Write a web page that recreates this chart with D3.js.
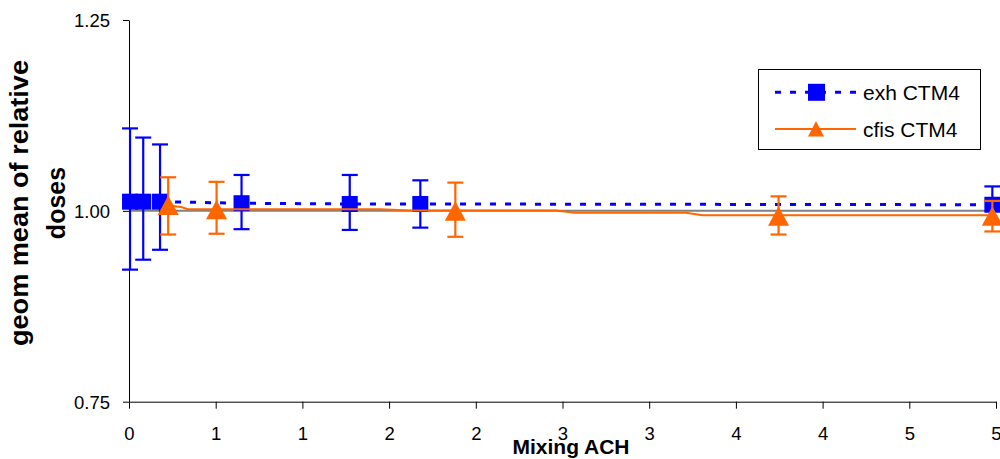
<!DOCTYPE html>
<html>
<head>
<meta charset="utf-8">
<script src="https://cdn.jsdelivr.net/npm/d3@7"></script>
<style>
  html, body { margin: 0; padding: 0; background: #fff; }
  svg { display: block; font-family: "Liberation Sans", Arial, sans-serif; }
</style>
</head>
<body>
<svg id="chart" width="1000" height="459"></svg>
<script>
// ---- data ----
const xTicks = [0, 0.5, 1, 1.5, 2, 2.5, 3, 3.5, 4, 4.5, 5];
const yTicks = [0.75, 1.00, 1.25];

const exhX    = [0.006, 0.082, 0.179, 0.649, 1.273, 1.680, 4.979];
const exhY    = [1.012, 1.012, 1.012, 1.010, 1.009, 1.009, 1.008];
const exhHigh = [1.108, 1.096, 1.087, 1.047, 1.047, 1.040, 1.032];
const exhLow  = [0.923, 0.936, 0.949, 0.976, 0.975, 0.978, 0.983];

const cfisX    = [0.226, 0.505, 1.882, 3.746, 4.979];
const cfisY    = [1.007, 1.0015, 0.9994, 0.993, 0.993];
const cfisHigh = [1.044, 1.038, 1.037, 1.019, 1.013];
const cfisLow  = [0.969, 0.970, 0.966, 0.969, 0.973];

const cfisLineX = [0.226, 0.30, 0.34, 1.446, 1.618, 2.463, 2.569, 3.213, 3.306, 4.979];
const cfisLineY = [1.007, 1.005, 1.0022, 1.0022, 1.0005, 1.0005, 0.9976, 0.9976, 0.9942, 0.9942];

const refX = [0, 4.979];
const refY = [1.0, 1.0];

const seriesNames = ["exh CTM4", "cfis CTM4"];

// ---- layout ----
const svg = d3.select("#chart");
const x = d3.scaleLinear().domain([0, 5]).range([129, 996]);
const y = d3.scaleLinear().domain([0.75, 1.25]).range([401.7, 20]);
const BLUE = "#0000FF", ORANGE = "#FF6600";

// axes
const xAxis = svg.append("g").attr("transform", `translate(0,${y(0.75)})`)
  .call(d3.axisBottom(x).tickValues(xTicks).tickSize(7).tickSizeOuter(0)
    .tickFormat(d => String(Math.floor(d + 0.5 + 1e-9))));
xAxis.selectAll("text").attr("font-size", 18.5).attr("dy", 0).attr("y", 38).attr("fill", "#000");
xAxis.selectAll("line, path").attr("stroke", "#000");

const yAxis = svg.append("g").attr("transform", `translate(${x(0)},0)`)
  .call(d3.axisLeft(y).tickValues(yTicks).tickSize(6).tickSizeOuter(0).tickFormat(d3.format(".2f")));
yAxis.selectAll("text").attr("font-size", 18.5).attr("x", -19).attr("dy", "0.35em").attr("fill", "#000");
yAxis.selectAll("line, path").attr("stroke", "#000");

// axis titles
svg.append("text").attr("x", 571).attr("y", 454).attr("text-anchor", "middle")
  .attr("font-size", 21).attr("font-weight", "bold").text("Mixing ACH");
const yt = svg.append("text").attr("transform", "translate(0,203) rotate(-90)")
  .attr("text-anchor", "middle").attr("font-size", 25).attr("font-weight", "bold");
yt.append("tspan").attr("x", 0).attr("y", 28).attr("textLength", 286)
  .attr("lengthAdjust", "spacingAndGlyphs").text("geom mean of relative");
yt.append("tspan").attr("x", 0).attr("y", 65).text("doses");

// reference line
const line = d3.line().x(d => x(d[0])).y(d => y(d[1]));
svg.append("path").datum(refX.map((v, i) => [v, refY[i]]))
  .attr("d", line).attr("fill", "none").attr("stroke", "#808080").attr("stroke-width", 2);

// exh series
svg.append("path").datum(exhX.map((v, i) => [v, exhY[i]]))
  .attr("d", line).attr("fill", "none").attr("stroke", BLUE).attr("stroke-width", 3)
  .attr("stroke-dasharray", "6,9");
function errorBars(xs, lows, highs, color) {
  const g = svg.append("g").attr("stroke", color).attr("stroke-width", 2.2);
  xs.forEach((v, i) => {
    g.append("line").attr("x1", x(v)).attr("x2", x(v)).attr("y1", y(highs[i])).attr("y2", y(lows[i]));
    g.append("line").attr("x1", x(v) - 8).attr("x2", x(v) + 8).attr("y1", y(highs[i])).attr("y2", y(highs[i]));
    g.append("line").attr("x1", x(v) - 8).attr("x2", x(v) + 8).attr("y1", y(lows[i])).attr("y2", y(lows[i]));
  });
}
errorBars(exhX, exhLow, exhHigh, BLUE);
svg.append("g").selectAll("rect").data(exhX.map((v, i) => [v, exhY[i]])).join("rect")
  .attr("x", d => x(d[0]) - 8).attr("y", d => y(d[1]) - 8).attr("width", 16).attr("height", 16)
  .attr("fill", BLUE);

// cfis series
svg.append("path").datum(cfisLineX.map((v, i) => [v, cfisLineY[i]]))
  .attr("d", line).attr("fill", "none").attr("stroke", ORANGE).attr("stroke-width", 2);
errorBars(cfisX, cfisLow, cfisHigh, ORANGE);
const tri = "M0,-10L10.5,9.5L-10.5,9.5Z";
svg.append("g").selectAll("path").data(cfisX.map((v, i) => [v, cfisY[i]])).join("path")
  .attr("transform", d => `translate(${x(d[0])},${y(d[1])})`).attr("d", tri).attr("fill", ORANGE);

// legend
const lg = svg.append("g");
lg.append("rect").attr("x", 758.5).attr("y", 69.5).attr("width", 222).attr("height", 80)
  .attr("fill", "#fff").attr("stroke", "#000").attr("stroke-width", 1);
const rows = [92.3, 129];
lg.append("line").attr("x1", 775).attr("x2", 856).attr("y1", rows[0]).attr("y2", rows[0])
  .attr("stroke", BLUE).attr("stroke-width", 3).attr("stroke-dasharray", "6,9");
lg.append("rect").attr("x", 808).attr("y", rows[0] - 8.5).attr("width", 17).attr("height", 17).attr("fill", BLUE);
lg.append("line").attr("x1", 775).attr("x2", 856).attr("y1", rows[1]).attr("y2", rows[1])
  .attr("stroke", ORANGE).attr("stroke-width", 2);
lg.append("path").attr("transform", `translate(816,${rows[1]})`).attr("d", "M0,-8L8,7.5L-8,7.5Z").attr("fill", ORANGE);
seriesNames.forEach((n, i) => {
  lg.append("text").attr("x", 863).attr("y", rows[i]).attr("dy", "0.36em")
    .attr("font-size", 21).text(n);
});
</script>
</body>
</html>
